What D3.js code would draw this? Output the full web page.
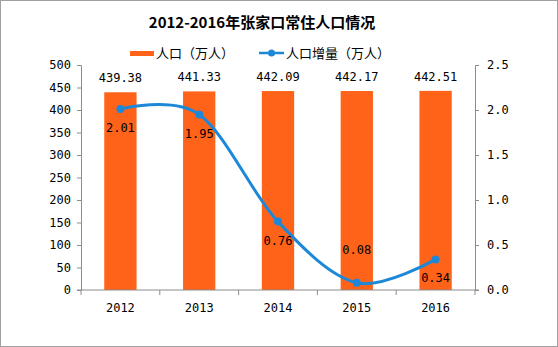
<!DOCTYPE html>
<html><head><meta charset="utf-8">
<script src="https://cdn.jsdelivr.net/npm/d3@7"></script>
<style>body{margin:0;background:#fff}svg{display:block}</style>
</head><body><svg id="c" width="558" height="347"></svg>
<script>
const years = ["2012","2013","2014","2015","2016"];
const population = [439.38, 441.33, 442.09, 442.17, 442.51];
const increase = [2.01, 1.95, 0.76, 0.08, 0.34];
const leftTicks = [0,50,100,150,200,250,300,350,400,450,500];
const rightTicks = [0,0.5,1,1.5,2,2.5];
const title = "2012-2016年张家口常住人口情况";
const seriesNames = ["人口（万人）","人口增量（万人）"];
const increaseLabelSide = ["below","below","below","above","below"];

const svg = d3.select("#c");
const numFont = "'DejaVu Sans Mono','Liberation Mono',monospace";
const axisColor = "#8c8c8c";
const barColor = "#ff6319";
const lineColor = "#1e88d8";

svg.append("rect").attr("x",0.5).attr("y",0.5).attr("width",557).attr("height",346)
  .attr("fill","#fff").attr("stroke","#a0a0a0");

const L = 81, R = 475, T = 65, B = 290;
const x = d3.scaleBand().domain(years).range([L,R]).paddingInner(0.59).paddingOuter(0.295);
const band = d3.scaleBand().domain(years).range([L,R]);
const yL = d3.scaleLinear().domain([0,500]).range([B,T]);
const yR = d3.scaleLinear().domain([0,2.5]).range([B,T]);

svg.append("text").attr("x",262).attr("y",28).attr("text-anchor","middle")
  .attr("font-family","'Noto Sans CJK SC',sans-serif").attr("font-weight","bold")
  .attr("font-size",15).attr("fill","#000").text(title);

// legend
const lg = svg.append("g").attr("font-family","'Noto Sans CJK SC',sans-serif").attr("font-size",13);
lg.append("rect").attr("x",130).attr("y",51).attr("width",24).attr("height",5).attr("fill",barColor);
lg.append("text").attr("x",156).attr("y",58).text(seriesNames[0]);
lg.append("line").attr("x1",259).attr("x2",284).attr("y1",53).attr("y2",53).attr("stroke",lineColor).attr("stroke-width",2.5);
lg.append("circle").attr("cx",271.5).attr("cy",53).attr("r",3.5).attr("fill",lineColor);
lg.append("text").attr("x",286).attr("y",58).text(seriesNames[1]);

// bars
svg.append("g").selectAll("rect").data(population).join("rect")
  .attr("x",(d,i)=>x(years[i])).attr("width",x.bandwidth())
  .attr("y",d=>yL(d)).attr("height",d=>B-yL(d)).attr("fill",barColor);

// axes
function styleAxis(g){
  g.selectAll("path,line").attr("stroke",axisColor);
  g.selectAll("text").attr("font-family",numFont).attr("font-size",12).attr("fill","#000");
}
svg.append("g").attr("transform",`translate(${L},0)`)
  .call(d3.axisLeft(yL).tickValues(leftTicks).tickSizeOuter(0).tickSize(4).tickPadding(6))
  .call(styleAxis);
svg.append("g").attr("transform",`translate(${R},0)`)
  .call(d3.axisRight(yR).tickValues(rightTicks).tickFormat(d3.format(".1f")).tickSizeOuter(0).tickSize(4).tickPadding(8))
  .call(styleAxis);
const xa = svg.append("g").attr("transform",`translate(0,${B})`);
xa.append("line").attr("x1",L-4).attr("x2",R+4).attr("stroke",axisColor);
xa.selectAll("line.t").data(d3.range(years.length+1)).join("line").attr("class","t")
  .attr("x1",i=>L+i*band.step()).attr("x2",i=>L+i*band.step()).attr("y1",0).attr("y2",5).attr("stroke",axisColor);
xa.selectAll("text").data(years).join("text")
  .attr("x",d=>band(d)+band.bandwidth()/2).attr("y",22).attr("text-anchor","middle")
  .attr("font-family",numFont).attr("font-size",12).text(d=>d);

// line
const cx = (i)=>band(years[i])+band.bandwidth()/2;
const line = d3.line().x((d,i)=>cx(i)).y(d=>yR(d)).curve(d3.curveCardinal.tension(0));
svg.append("path").datum(increase).attr("d",line).attr("fill","none")
  .attr("stroke",lineColor).attr("stroke-width",3);
svg.append("g").selectAll("circle").data(increase).join("circle")
  .attr("cx",(d,i)=>cx(i)).attr("cy",d=>yR(d)).attr("r",4).attr("fill",lineColor);

// labels
svg.append("g").selectAll("text").data(population).join("text")
  .attr("x",(d,i)=>cx(i)).attr("y",d=>yL(d)-10).attr("text-anchor","middle")
  .attr("font-family",numFont).attr("font-size",12).text(d=>d.toFixed(2));
svg.append("g").selectAll("text").data(increase).join("text")
  .attr("x",(d,i)=>cx(i)).attr("y",(d,i)=>increaseLabelSide[i]==="above" ? yR(d)-29 : yR(d)+23)
  .attr("text-anchor","middle")
  .attr("font-family",numFont).attr("font-size",12).text(d=>d.toFixed(2));
</script></body></html>
